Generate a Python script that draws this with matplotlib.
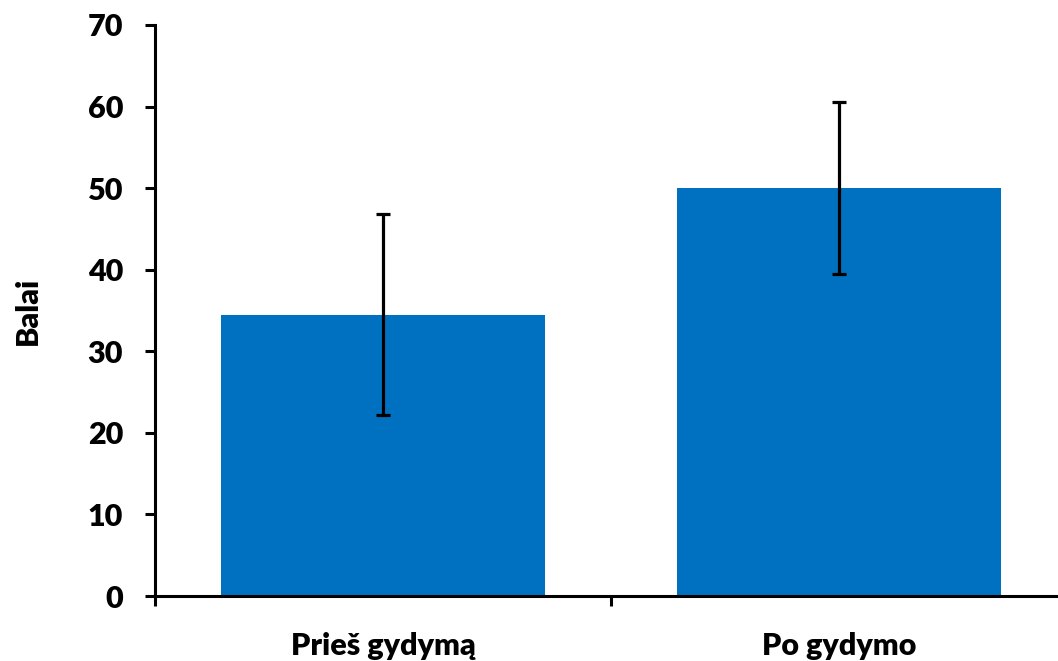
import matplotlib
matplotlib.use("Agg")
import matplotlib.pyplot as plt

categories = ["Prieš gydymą", "Po gydymo"]
means = [34.5, 50.0]
errors = [12.3, 10.5]
yticks = [0, 10, 20, 30, 40, 50, 60, 70]
ylabel = "Balai"

plt.rcParams['font.family'] = ['Lato', 'DejaVu Sans']

W, H = 1058, 661
fig = plt.figure(figsize=(W / 100, H / 100), dpi=100)
left, right = 155, 1067
bottom, top = 596, 25
ax = fig.add_axes([left / W, (H - bottom) / H, (right - left) / W, (bottom - top) / H])

x = list(range(len(categories)))
ax.bar(x, means, width=0.71, color="#0070C0", zorder=2)
ax.errorbar(x, means, yerr=errors, fmt="none", ecolor="black", elinewidth=2.3,
            capsize=5, capthick=2.3, zorder=3)

ax.set_xlim(-0.5, len(categories) - 0.5)
ax.set_ylim(0, 70)
ax.set_yticks(yticks)
ax.set_yticklabels([str(t) for t in yticks], fontsize=22, fontweight="heavy")

ax.set_xticks([i - 0.5 for i in range(len(categories) + 1)])
ax.set_xticklabels([])
ax.set_xticks(x, minor=True)
ax.set_xticklabels(categories, minor=True, fontsize=22, fontweight="heavy")
ax.tick_params(axis="x", which="minor", length=0, pad=26)
ax.tick_params(axis="x", which="major", length=7, width=2.2, direction="out")
ax.tick_params(axis="y", length=7, width=2.2, direction="out", pad=16)

for s in ["top", "right"]:
    ax.spines[s].set_visible(False)
for s in ["left", "bottom"]:
    ax.spines[s].set_linewidth(2.2)

ax.set_ylabel(ylabel, fontsize=22, fontweight="heavy", labelpad=33)

fig.savefig("out.png", dpi=100)
